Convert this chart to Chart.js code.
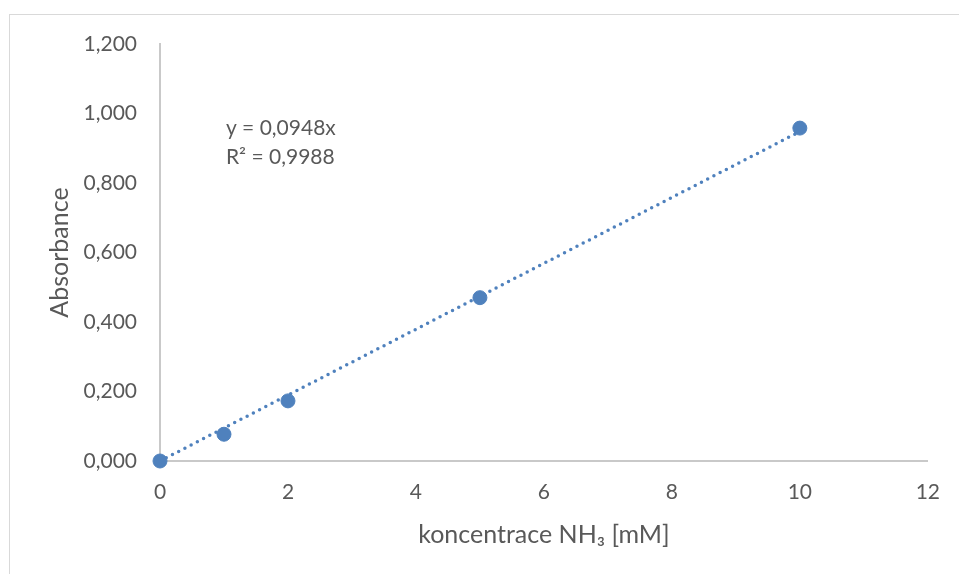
<!DOCTYPE html>
<html>
<head>
<meta charset="utf-8">
<script src="https://cdn.jsdelivr.net/npm/chart.js@4/dist/chart.umd.min.js"></script>
<style>
  html, body { margin: 0; padding: 0; background: #fff; }
  #wrap { position: relative; width: 959px; height: 574px; overflow: hidden; }
  #frame { position: absolute; left: 9px; top: 14px; width: 980px; height: 600px; border: 1px solid #d9d9d9; }
  #c { position: absolute; left: 0; top: 0; }
</style>
</head>
<body>
<div id="wrap">
  <div id="frame"></div>
  <canvas id="c" width="959" height="574"></canvas>
</div>
<script>
// calibration data, absorbance vs NH3 concentration
const concentrations = [0, 1, 2, 5, 10];
const absorbance = [0, 0.077, 0.173, 0.470, 0.958];
const slope = 0.0948;
const trendX = [0, 10];
const equationLines = ['y = 0,0948x', 'R² = 0,9988'];

const BLUE = '#4f81bd';
const AXIS = '#c9c9c9';
const TEXT = '#595959';
const FONT = 'Lato, "Open Sans", sans-serif';

const fmt = (v, d) => v.toFixed(d).replace('.', ',');

const equationLabel = {
  id: 'equationLabel',
  afterDatasetsDraw(chart) {
    const { ctx, scales } = chart;
    const x = scales.x.getPixelForValue(1.03);
    const y = scales.y.getPixelForValue(0.958);
    ctx.save();
    ctx.font = '21px ' + FONT;
    ctx.fillStyle = TEXT;
    ctx.textAlign = 'left';
    ctx.textBaseline = 'middle';
    equationLines.forEach((t, i) => ctx.fillText(t, x, y + i * 29));
    ctx.restore();
  }
};

new Chart(document.getElementById('c'), {
  type: 'scatter',
  data: {
    datasets: [
      {
        label: 'Absorbance',
        data: concentrations.map((x, i) => ({ x, y: absorbance[i] })),
        backgroundColor: BLUE,
        borderColor: BLUE,
        pointRadius: 7,
        clip: false,
        order: 1
      },
      {
        label: 'Trend',
        data: trendX.map(x => ({ x, y: slope * x })),
        showLine: true,
        borderColor: BLUE,
        borderWidth: 3.5,
        borderDash: [0, 7],
        borderCapStyle: 'round',
        pointRadius: 0,
        clip: false,
        order: 2
      }
    ]
  },
  options: {
    responsive: false,
    animation: false,
    layout: { padding: { left: 0, top: 44, right: 29, bottom: 0 } },
    plugins: { legend: { display: false }, tooltip: { enabled: false } },
    scales: {
      x: {
        type: 'linear', min: 0, max: 12,
        afterFit: s => { s.height = 113; },
        grid: { display: false, drawTicks: false },
        border: { color: AXIS, width: 2 },
        ticks: { stepSize: 2, padding: 19, color: TEXT, font: { family: FONT, size: 21 } },
        title: { display: true, text: 'koncentrace NH₃ [mM]', color: TEXT, font: { family: FONT, size: 25 }, padding: { top: 4, bottom: 24 } }
      },
      y: {
        type: 'linear', min: 0, max: 1.2,
        afterFit: s => { s.width = 160; },
        grid: { display: false, drawTicks: false },
        border: { color: AXIS, width: 2 },
        ticks: { stepSize: 0.2, padding: 23, color: TEXT, font: { family: FONT, size: 21 }, callback: v => fmt(v, 3) },
        title: { display: true, text: 'Absorbance', color: TEXT, font: { family: FONT, size: 25 }, padding: { top: 45 } }
      }
    }
  },
  plugins: [equationLabel]
});
</script>
</body>
</html>
